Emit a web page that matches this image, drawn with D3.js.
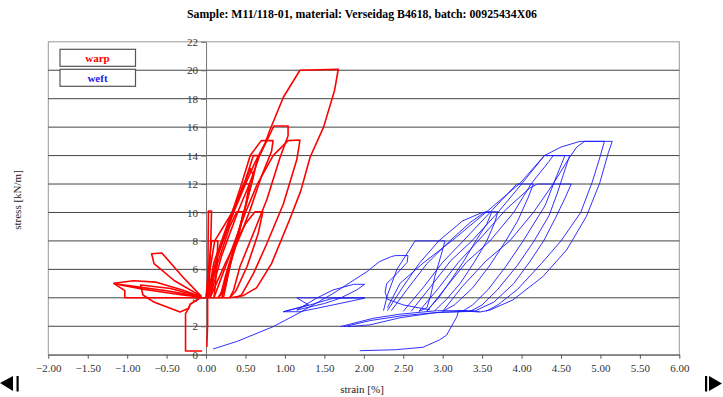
<!DOCTYPE html>
<html>
<head>
<meta charset="utf-8">
<script src="https://cdn.jsdelivr.net/npm/d3@7"></script>
<style>
  body { margin: 0; background: #fff; }
  svg { display: block; font-family: "Liberation Serif", "Times New Roman", serif; }
</style>
</head>
<body>
<div id="chartArea"></div>
<script>
// tick labels
var strainTicks = [-2, -1.5, -1, -0.5, 0, 0.5, 1, 1.5, 2, 2.5, 3, 3.5, 4, 4.5, 5, 5.5, 6];
var stressTicks = [0, 2, 4, 6, 8, 10, 12, 14, 16, 18, 20, 22];

// warp cycles [strain %, stress kN/m]
var warpStart = [[-0.05,0.26],[-0.26,0.26],[-0.26,2.9],[-0.22,3.26],[-0.2,3.56],[-0.06,4.05]];
var warpRise = [[0.01,0.55],[0.02,2.2],[0.02,4.0],[0.025,7],[0.03,10.1],[0.07,10.1],[0.06,8],[0.04,5],[0.03,4]];
var warpLobe1 = [[-0.06,4.1],[-0.3,5.5],[-0.56,7.15],[-0.69,7.1],[-0.66,6.4],[-0.4,5.2],[-0.06,4.1]];
var warpLobe2 = [[-0.06,4.08],[-0.3,4.55],[-0.63,5.1],[-0.92,5.2],[-1.17,5.02],[-1.03,4.5],[-1.03,4.0],[0.0,4.0]];
var warpLobe3 = [[-0.06,4.08],[-0.5,4.5],[-1.15,4.98],[-0.8,4.6],[-0.3,4.2],[-0.06,4.05]];
var warpLobe4 = [[-0.06,4.05],[-0.45,4.65],[-0.83,4.9],[-0.8,4.2],[-0.67,3.73],[-0.33,3.0],[-0.22,3.26],[-0.2,3.56],[-0.06,4.05]];
var warp8 = [[0.0,4.0],[0.03,6],[0.07,8.0],[0.15,8.0],[0.14,6.8],[0.12,5],[0.1,4.0]];
var warp10a = [[0.02,4.0],[0.15,6.5],[0.3,9],[0.39,10.05],[0.47,10.05],[0.42,8.5],[0.3,6.2],[0.2,4.4],[0.15,4.0]];
var warp10b = [[0.05,4.0],[0.25,6.5],[0.5,9.2],[0.62,10.05],[0.72,10.05],[0.66,8.5],[0.52,6.2],[0.38,4.5],[0.3,4.0]];
var warp12 = [[0.03,4.0],[0.15,7],[0.32,9.8],[0.48,12.0],[0.55,12.0],[0.5,10.5],[0.4,8.2],[0.28,6],[0.2,4.2]];
var warp13 = [[0.02,4.0],[0.12,6.5],[0.3,9.5],[0.45,11.5],[0.56,13.1],[0.6,12.6],[0.5,10.4],[0.38,8],[0.25,5.6],[0.18,4.1]];
var warp14 = [[0.02,4.0],[0.1,6.5],[0.3,9.6],[0.5,12.3],[0.6,14.0],[0.66,14.0],[0.6,12.5],[0.48,10],[0.35,7.5],[0.26,5.2],[0.2,4.0]];
var warp15a = [[0.0,4.0],[0.05,6],[0.11,8],[0.33,10],[0.45,12],[0.56,14],[0.70,15.05],[0.85,15.05],[0.83,14.3],[0.7,12.5],[0.56,10.2],[0.45,8.6],[0.34,7.15],[0.28,5.6],[0.22,4.0]];
var warp16 = [[0.05,4.0],[0.2,7],[0.4,10],[0.55,12],[0.68,14],[0.86,16.08],[1.04,16.08],[1.04,15.4],[0.94,13.9],[0.77,10.9],[0.62,8.8],[0.43,6.2],[0.35,4.55],[0.3,4.0]];
var warp15b = [[0.1,4.0],[0.3,7],[0.5,10],[0.65,12],[0.85,14],[1.04,15.05],[1.19,15.1],[1.18,14.7],[1.15,13.7],[0.98,10.6],[0.77,7.8],[0.6,5.7],[0.45,4.2],[0.38,4.0]];
var warp20 = [[0.05,4.0],[0.15,7],[0.35,10],[0.5,12],[0.62,13.5],[0.75,14.9],[0.81,15.8],[0.98,18.1],[1.19,20.0],[1.676,20.07],[1.63,18.6],[1.49,16],[1.32,13.9],[1.2,11.5],[1.06,9.5],[0.83,6.4],[0.64,4.7],[0.47,4.15],[0.3,4.0],[0.0,4.0]];

// weft cycles
var weftStart = [[0.09,0.4],[0.4,0.95],[0.85,1.97],[1.2,3.0],[1.61,4.3],[2.04,5.84],[2.2,6.55],[2.35,6.9],[2.4,6.97],[2.56,6.97],[2.55,6.5],[2.42,5.7],[2.29,5.0],[2.27,4.4],[2.3,3.9],[2.5,3.5],[2.84,3.15]];
var weftLow1 = [[2.01,4.0],[1.15,4.0],[1.3,3.5],[0.98,3.02],[1.19,3.02],[1.61,3.5],[2.01,3.97]];
var weftLow2 = [[0.98,3.02],[1.32,3.5],[1.61,3.97],[2.01,4.0]];
var weftLow3 = [[1.15,3.14],[1.4,3.97],[1.61,4.55],[1.87,4.95],[2.01,4.95],[1.91,4.55],[1.7,3.97],[1.5,3.6],[1.15,3.14]];
var weftLow4 = [[1.7,1.97],[2.12,2.56],[2.46,2.85],[2.92,3.09],[3.4,3.1]];
var weftLow5 = [[1.75,1.97],[2.08,2.4],[2.5,2.75],[3.0,3.0],[3.47,3.05]];
var weftLow6 = [[1.8,1.97],[2.08,2.1],[2.46,2.6],[2.9,2.95],[3.3,3.05]];
var weft8 = [[2.25,3.1],[2.3,4.2],[2.42,6],[2.65,8.0],[3.03,8.0],[2.98,7],[2.9,5.5],[2.85,4.2],[2.8,3.3],[2.7,3.05]];
var weft10a = [[2.35,3.1],[2.55,4.6],[2.8,6.4],[3.09,8],[3.35,9.3],[3.54,10.05],[3.70,10.05],[3.66,9.3],[3.56,8],[3.4,6.5],[3.22,5],[3.05,3.9],[2.9,3.1]];
var weft10b = [[2.3,3.1],[2.5,4.8],[2.7,6.4],[2.95,8],[3.25,9.4],[3.5,10.0],[3.62,10.0],[3.56,9.2],[3.42,8],[3.27,6.6],[3.1,5.2],[2.95,4],[2.8,3.1]];
var weft12a = [[2.5,3.05],[2.75,4.7],[3.0,6.5],[3.26,8],[3.6,10],[3.94,12.0],[4.15,12.0],[4.08,11],[3.95,9.4],[3.8,8],[3.6,6.3],[3.38,4.7],[3.15,3.5],[3.0,3.05]];
var weft12b = [[2.7,3.05],[2.95,4.7],[3.2,6.5],[3.45,8],[3.8,10.2],[4.1,11.7],[4.2,12.0],[4.63,12.0],[4.55,11],[4.42,9.5],[4.28,8],[4.1,6.5],[3.9,5],[3.65,3.7],[3.4,3.05]];
var weft14a = [[2.6,3.05],[2.85,4.8],[3.1,6.6],[3.37,8],[3.7,10],[4.0,12],[4.29,14.0],[4.61,14.0],[4.55,13],[4.45,11.3],[4.35,9.8],[4.16,8],[3.95,6.3],[3.7,4.6],[3.5,3.5],[3.35,3.05]];
var weft14b = [[2.8,3.05],[3.05,4.8],[3.3,6.5],[3.6,8],[3.9,10],[4.12,12],[4.35,13.6],[4.4,14.0],[4.55,14.0],[4.44,12.5],[4.3,10.5],[4.02,8],[3.8,6.2],[3.58,4.6],[3.38,3.5],[3.25,3.05]];
var weft15a = [[2.3,3.3],[2.46,5.02],[2.75,6.43],[3.13,8.07],[3.56,10.06],[3.98,12.05],[4.29,14.0],[4.5,14.6],[4.74,15.0],[5.15,15.0],[5.1,14.2],[4.99,12.05],[4.82,9.7],[4.64,8],[4.57,7.36],[4.27,5.49],[3.89,3.85],[3.6,3.14],[3.47,3.0]];
var weft15b = [[3.0,3.05],[3.25,4.8],[3.55,6.6],[3.85,8],[4.15,10],[4.4,12],[4.6,13.8],[4.7,14.6],[4.8,15.0],[5.05,15.0],[5.0,14],[4.9,12.2],[4.75,10],[4.5,8],[4.25,6.4],[3.95,4.6],[3.7,3.5],[3.55,3.05]];
var weftEnd = [[3.47,3.0],[3.2,3.1],[3.18,2.67],[3.05,1.38],[2.96,1.04],[2.75,0.52],[2.4,0.35],[1.95,0.28]];

var warpCycles = [warpStart, warpRise, warpLobe1, warpLobe2, warpLobe3, warpLobe4, warp8, warp10a, warp10b, warp12, warp13, warp14, warp15a, warp16, warp15b, warp20];
var weftCycles = [weftStart, weftLow1, weftLow2, weftLow3, weftLow4, weftLow5, weftLow6, weft8, weft10a, weft10b, weft12a, weft12b, weft14a, weft14b, weft15a, weft15b, weftEnd];

var width = 723, height = 397;
var plot = {left: 48.3, right: 679.3, top: 41.8, bottom: 354.7};

var svg = d3.select('#chartArea').append('svg')
    .attr('width', width)
    .attr('height', height);

var x = d3.scaleLinear().domain([-2, 6]).range([plot.left, plot.right]);
var y = d3.scaleLinear().domain([0, 22]).range([plot.bottom, plot.top]);

svg.append('text')
    .attr('x', 362).attr('y', 18)
    .attr('text-anchor', 'middle')
    .style('font-size', '11.8px').style('font-weight', 'bold')
    .text('Sample: M11/118-01, material: Verseidag B4618, batch: 00925434X06');

// frame
svg.append('rect')
    .attr('x', plot.left).attr('y', plot.top)
    .attr('width', plot.right - plot.left).attr('height', plot.bottom - plot.top)
    .attr('fill', 'none').attr('stroke', '#999').attr('stroke-width', 1);

// horizontal grid
svg.append('g').selectAll('line').data(stressTicks.filter(function(d){ return d > 0 && d < 22; }))
    .enter().append('line')
    .attr('x1', plot.left).attr('x2', plot.right)
    .attr('y1', function(d){ return y(d); }).attr('y2', function(d){ return y(d); })
    .attr('stroke', '#444').attr('stroke-width', 1);

// x axis at stress 0
var xAxis = svg.append('g')
    .attr('transform', 'translate(0,' + y(0) + ')')
    .call(d3.axisBottom(x).tickValues(strainTicks).tickSize(4).tickSizeOuter(0)
        .tickFormat(d3.format('.2f')));
xAxis.select('.domain').attr('stroke', '#555');
xAxis.selectAll('.tick line').attr('stroke', '#555');
xAxis.selectAll('text').attr('fill', '#333').style('font-size', '11px')
    .style('font-family', '"Liberation Serif", serif').attr('dy', '0.95em');

// y axis at strain 0
var yAxis = svg.append('g')
    .attr('transform', 'translate(' + x(0) + ',0)')
    .call(d3.axisLeft(y).tickValues(stressTicks).tickSize(5).tickSizeOuter(0));
yAxis.select('.domain').attr('stroke', '#777');
yAxis.selectAll('.tick line').attr('stroke', '#666');
yAxis.selectAll('text').attr('fill', '#333').style('font-size', '11px')
    .style('font-family', '"Liberation Serif", serif').attr('x', -8);

var line = d3.line()
    .x(function(d){ return x(d[0]); })
    .y(function(d){ return y(d[1]); });

svg.append('g').selectAll('path').data(weftCycles).enter().append('path')
    .attr('d', line)
    .attr('fill', 'none').attr('stroke', '#1a1aff').attr('stroke-width', 0.9)
    .attr('stroke-linejoin', 'round');

svg.append('g').selectAll('path').data(warpCycles).enter().append('path')
    .attr('d', line)
    .attr('fill', 'none').attr('stroke', '#ff0000').attr('stroke-width', 1.6)
    .attr('stroke-linejoin', 'round');

// legend
var legend = [{name: 'warp', color: '#ff0000', top: 49.3}, {name: 'weft', color: '#2222ee', top: 69.3}];
var lg = svg.append('g').selectAll('g').data(legend).enter().append('g');
lg.append('rect')
    .attr('x', 60).attr('y', function(d){ return d.top; })
    .attr('width', 75.5).attr('height', 17)
    .attr('fill', '#fff').attr('stroke', '#555').attr('stroke-width', 1.2);
lg.append('text')
    .attr('x', 97.5).attr('y', function(d){ return d.top + 12.5; })
    .attr('text-anchor', 'middle')
    .attr('fill', function(d){ return d.color; })
    .style('font-size', '11px').style('font-weight', 'bold')
    .text(function(d){ return d.name; });

// axis titles
svg.append('text')
    .attr('x', 362).attr('y', 393)
    .attr('text-anchor', 'middle')
    .attr('fill', '#222')
    .style('font-size', '11px')
    .text('strain [%]');
svg.append('text')
    .attr('transform', 'translate(21,200) rotate(-90)')
    .attr('text-anchor', 'middle')
    .attr('fill', '#222')
    .style('font-size', '11px')
    .text('stress [kN/m]');

// navigation arrows
svg.append('path').attr('d', 'M0,383 L13,376 L13,391 Z').attr('fill', '#000');
svg.append('rect').attr('x', 16.5).attr('y', 376).attr('width', 2.2).attr('height', 15.5).attr('fill', '#000');
svg.append('rect').attr('x', 705).attr('y', 376).attr('width', 2.2).attr('height', 15.5).attr('fill', '#000');
svg.append('path').attr('d', 'M709,376 L722,383.5 L709,391 Z').attr('fill', '#000');
</script>
</body>
</html>
